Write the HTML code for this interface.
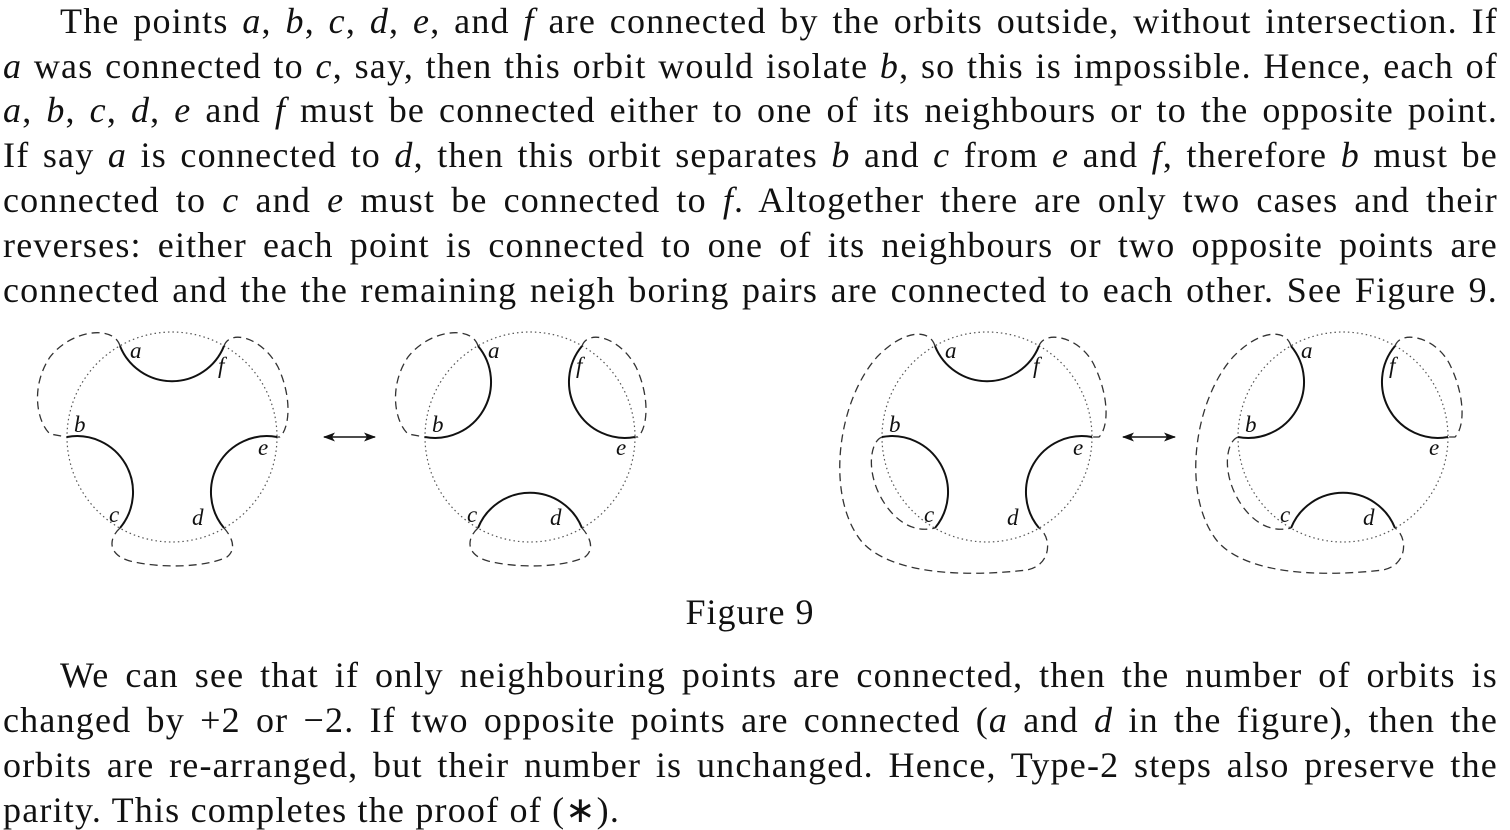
<!DOCTYPE html>
<html><head><meta charset="utf-8"><style>
html,body{margin:0;padding:0;background:#fff;}
body{width:1510px;height:830px;position:relative;overflow:hidden;font-family:"Liberation Serif",serif;color:#111;}
.l{position:absolute;left:3px;width:1495px;font-size:36px;letter-spacing:1.2px;line-height:40px;text-align:justify;text-align-last:justify;white-space:nowrap;}
.l.last{text-align-last:left;}
i{font-style:italic;}
svg{position:absolute;left:0;top:0;}
</style></head><body>
<div class="l" style="top:1px;padding-left:57px;width:1438px">The points <i>a</i>, <i>b</i>, <i>c</i>, <i>d</i>, <i>e</i>, and <i>f</i> are connected by the orbits outside, without intersection. If</div>
<div class="l" style="top:46px"><i>a</i> was connected to <i>c</i>, say, then this orbit would isolate <i>b</i>, so this is impossible. Hence, each of</div>
<div class="l" style="top:90px"><i>a</i>, <i>b</i>, <i>c</i>, <i>d</i>, <i>e</i> and <i>f</i> must be connected either to one of its neighbours or to the opposite point.</div>
<div class="l" style="top:135px">If say <i>a</i> is connected to <i>d</i>, then this orbit separates <i>b</i> and <i>c</i> from <i>e</i> and <i>f</i>, therefore <i>b</i> must be</div>
<div class="l" style="top:180px">connected to <i>c</i> and <i>e</i> must be connected to <i>f</i>. Altogether there are only two cases and their</div>
<div class="l" style="top:225px">reverses: either each point is connected to one of its neighbours or two opposite points are</div>
<div class="l" style="top:270px">connected and the the remaining neigh boring pairs are connected to each other. See Figure 9.</div>

<div style="position:absolute;left:0;width:1500px;top:592px;text-align:center;font-size:36px;letter-spacing:1px;line-height:40px;">Figure 9</div>

<div class="l" style="top:655px;padding-left:57px;width:1438px">We can see that if only neighbouring points are connected, then the number of orbits is</div>
<div class="l" style="top:700px">changed by +2 or −2. If two opposite points are connected (<i>a</i> and <i>d</i> in the figure), then the</div>
<div class="l" style="top:745px">orbits are re-arranged, but their number is unchanged. Hence, Type-2 steps also preserve the</div>
<div class="l last" style="top:790px">parity. This completes the proof of (∗).</div>

<svg width="1510" height="830" viewBox="0 0 1510 830">
<defs>
<g id="circ"><circle cx="0" cy="0" r="105" fill="none" stroke="#555" stroke-width="1.2" stroke-dasharray="1.5 3"/></g>
<g id="lab" font-family="Liberation Serif, serif" font-style="italic" font-size="23" fill="#111">
<text x="-42" y="-79">a</text><text x="46" y="-64">f</text><text x="-98" y="-5">b</text>
<text x="86" y="18">e</text><text x="-63" y="85">c</text><text x="20" y="88">d</text>
</g>
<marker id="ah" markerWidth="12" markerHeight="9" refX="11" refY="4.5" orient="auto-start-reverse" markerUnits="userSpaceOnUse"><path d="M0,0 L12,4.5 L0,9 L3,4.5 Z" fill="#111"/></marker>
</defs>
<g fill="none" stroke-width="2" stroke="#111">
<g transform="translate(172,437)">
<use href="#circ"/>
<path d="M-52,-91 A56,56 0 0 0 52,-91 M105,0 A56,56 0 0 0 52,91 M-52,91 A56,56 0 0 0 -105,0"/>
<g stroke="#333" stroke-width="1.3" stroke-dasharray="8 5">
<path d="M-52,-91 C-58,-112 -100,-108 -122,-80 C-142,-50 -135,-15 -122,-3 L-105,0"/>
<path d="M52,-91 C58,-108 90,-100 106,-70 C120,-40 118,-10 108,0 L105,0"/>
<path d="M-52,91 C-64,102 -64,118 -42,124 C-10,132 35,130 55,120 C65,112 60,100 52,91"/>
</g>
</g>
<g transform="translate(530,437)">
<use href="#circ"/>
<path d="M-105,0 A56,56 0 0 0 -52,-91 M52,-91 A56,56 0 0 0 105,0 M52,91 A56,56 0 0 0 -52,91"/>
<g stroke="#333" stroke-width="1.3" stroke-dasharray="8 5">
<path d="M-52,-91 C-58,-112 -100,-108 -122,-80 C-142,-50 -135,-15 -122,-3 L-105,0"/>
<path d="M52,-91 C58,-108 90,-100 106,-70 C120,-40 118,-10 108,0 L105,0"/>
<path d="M-52,91 C-64,102 -64,118 -42,124 C-10,132 35,130 55,120 C65,112 60,100 52,91"/>
</g>
</g>
<g transform="translate(987,437)">
<use href="#circ"/>
<path d="M-52,-91 A56,56 0 0 0 52,-91 M105,0 A56,56 0 0 0 52,91 M-52,91 A56,56 0 0 0 -105,0"/>
<g stroke="#333" stroke-width="1.3" stroke-dasharray="8 5">
<path d="M-52,-91 C-58,-110 -85,-106 -110,-80 C-150,-35 -162,60 -125,105 C-95,138 -20,140 40,133 C65,128 65,100 52,91"/>
<path d="M-105,0 C-118,5 -122,40 -100,70 C-85,90 -68,95 -52,91"/>
<path d="M52,-91 C58,-108 95,-100 108,-70 C122,-40 122,-10 112,0 L105,0"/>
</g>
</g>
<g transform="translate(1343,437)">
<use href="#circ"/>
<path d="M-105,0 A56,56 0 0 0 -52,-91 M52,-91 A56,56 0 0 0 105,0 M52,91 A56,56 0 0 0 -52,91"/>
<g stroke="#333" stroke-width="1.3" stroke-dasharray="8 5">
<path d="M-52,-91 C-58,-110 -85,-106 -110,-80 C-150,-35 -162,60 -125,105 C-95,138 -20,140 40,133 C65,128 65,100 52,91"/>
<path d="M-105,0 C-118,5 -122,40 -100,70 C-85,90 -68,95 -52,91"/>
<path d="M52,-91 C58,-108 95,-100 108,-70 C122,-40 122,-10 112,0 L105,0"/>
</g>
</g>
<line x1="324" y1="437" x2="375" y2="437" stroke-width="1.6" marker-start="url(#ah)" marker-end="url(#ah)"/>
<line x1="1123" y1="437" x2="1175" y2="437" stroke-width="1.6" marker-start="url(#ah)" marker-end="url(#ah)"/>
</g>
<use href="#lab" transform="translate(172,437)"/>
<use href="#lab" transform="translate(530,437)"/>
<use href="#lab" transform="translate(987,437)"/>
<use href="#lab" transform="translate(1343,437)"/>
</svg>
</body></html>
